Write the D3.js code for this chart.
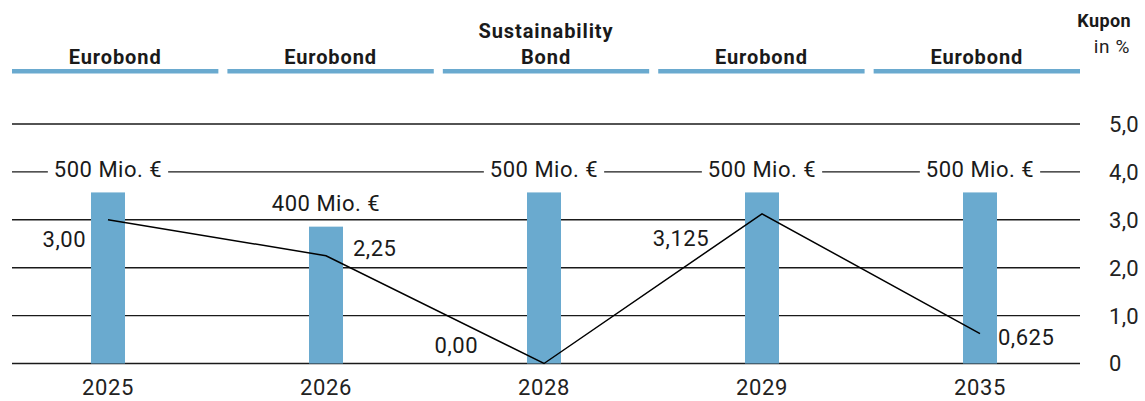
<!DOCTYPE html>
<html>
<head>
<meta charset="utf-8">
<script src="https://cdn.jsdelivr.net/npm/d3@7"></script>
<style>
  html, body { margin: 0; padding: 0; background: #fff; }
  svg { display: block; font-family: Roboto, "Noto Sans", sans-serif; }
</style>
</head>
<body>
<svg id="chart" width="1145" height="401"></svg>
<script>
// ---- data ----
const years = ["2025", "2026", "2028", "2029", "2035"];
const bondTypes = [["Eurobond"], ["Eurobond"], ["Sustainability", "Bond"], ["Eurobond"], ["Eurobond"]];
const volumes = [500, 400, 500, 500, 500];           // Mio. €
const coupons = [3.00, 2.25, 0.00, 3.125, 0.625];    // Kupon in %
const couponLabels = ["3,00", "2,25", "0,00", "3,125", "0,625"];
const couponTicks = [0, 1, 2, 3, 4, 5];
const couponTickLabels = ["0", "1,0", "2,0", "3,0", "4,0", "5,0"];
const axisTitle = ["Kupon", "in %"];

// ---- layout ----
const BLUE = "#6aaacf";
const INK = "#1a1a1a";
const svg = d3.select("#chart");

const x = d3.scalePoint().domain(years).range([108, 980]);
const header = d3.scaleBand().domain(years).range([12, 1080]).paddingInner(0.042);
const yC = d3.scaleLinear().domain([0, 5]).range([363.5, 124]);
const yV = d3.scaleLinear().domain([0, 700]).range([363.5, 124]);
const barW = 34;

// gridlines
svg.append("g").selectAll("line").data(couponTicks).join("line")
  .attr("x1", 12).attr("x2", 1080)
  .attr("y1", d => yC(d)).attr("y2", d => yC(d))
  .attr("stroke", INK).attr("stroke-width", 1.4);

// right axis tick labels
svg.append("g").selectAll("text").data(couponTicks).join("text")
  .attr("x", 1109).attr("y", d => yC(d)).attr("dy", "0.36em")
  .attr("font-size", 22).attr("fill", "#222").attr("letter-spacing", 0.3)
  .text((d, i) => couponTickLabels[i]);

// axis title
svg.append("text").attr("x", 1131).attr("y", 27).attr("text-anchor", "end")
  .attr("font-size", 18).attr("font-weight", 700).attr("fill", INK).attr("letter-spacing", 0.4)
  .text(axisTitle[0]);
svg.append("text").attr("x", 1130).attr("y", 53).attr("text-anchor", "end")
  .attr("font-size", 19).attr("fill", "#222").attr("letter-spacing", 0.6)
  .text(axisTitle[1]);

// header bands and labels
svg.append("g").selectAll("rect").data(years).join("rect")
  .attr("x", d => header(d)).attr("width", header.bandwidth())
  .attr("y", 69).attr("height", 4.5).attr("fill", BLUE);
const hg = svg.append("g");
years.forEach((yr, i) => {
  const lines = bondTypes[i];
  lines.forEach((t, j) => {
    hg.append("text")
      .attr("x", header(yr) + header.bandwidth() / 2)
      .attr("y", 64 - (lines.length - 1 - j) * 26)
      .attr("text-anchor", "middle")
      .attr("font-size", 20).attr("font-weight", 700).attr("fill", INK)
      .attr("letter-spacing", 0.9)
      .text(t);
  });
});

// bars
svg.append("g").selectAll("rect").data(years).join("rect")
  .attr("x", d => x(d) - barW / 2).attr("width", barW)
  .attr("y", (d, i) => yV(volumes[i]))
  .attr("height", (d, i) => yV(0) - yV(volumes[i]))
  .attr("fill", BLUE);

// volume labels with white knock-out
const vg = svg.append("g");
years.forEach((yr, i) => {
  const t = vg.append("text")
    .attr("x", x(yr)).attr("y", yV(volumes[i]) - 15.5)
    .attr("text-anchor", "middle")
    .attr("font-size", 22).attr("fill", INK).attr("letter-spacing", 0.5)
    .text(volumes[i] + " Mio. €");
  const bb = t.node().getBBox();
  vg.insert("rect", () => t.node())
    .attr("x", bb.x - 6).attr("width", bb.width + 12)
    .attr("y", bb.y).attr("height", bb.height).attr("fill", "#fff");
});

// coupon line
svg.append("path")
  .datum(years.map((yr, i) => [x(yr), yC(coupons[i])]))
  .attr("d", d3.line())
  .attr("fill", "none").attr("stroke", "#000").attr("stroke-width", 1.5)
  .attr("stroke-linejoin", "miter");

// coupon value labels
const labelPlace = [
  { anchor: "end",   dx: -22, dy: 27 },
  { anchor: "start", dx: 27,  dy: 0 },
  { anchor: "end",   dx: -66, dy: -11 },
  { anchor: "end",   dx: -53, dy: 32 },
  { anchor: "start", dx: 18,  dy: 11 }
];
svg.append("g").selectAll("text").data(years).join("text")
  .attr("x", (d, i) => x(d) + labelPlace[i].dx)
  .attr("y", (d, i) => yC(coupons[i]) + labelPlace[i].dy)
  .attr("text-anchor", (d, i) => labelPlace[i].anchor)
  .attr("font-size", 22).attr("fill", INK).attr("letter-spacing", 0.5)
  .text((d, i) => couponLabels[i]);

// x-axis year labels
svg.append("g").selectAll("text").data(years).join("text")
  .attr("x", d => x(d)).attr("y", 395)
  .attr("text-anchor", "middle")
  .attr("font-size", 22).attr("fill", "#222").attr("letter-spacing", 0.6)
  .text(d => d);
</script>
</body>
</html>
